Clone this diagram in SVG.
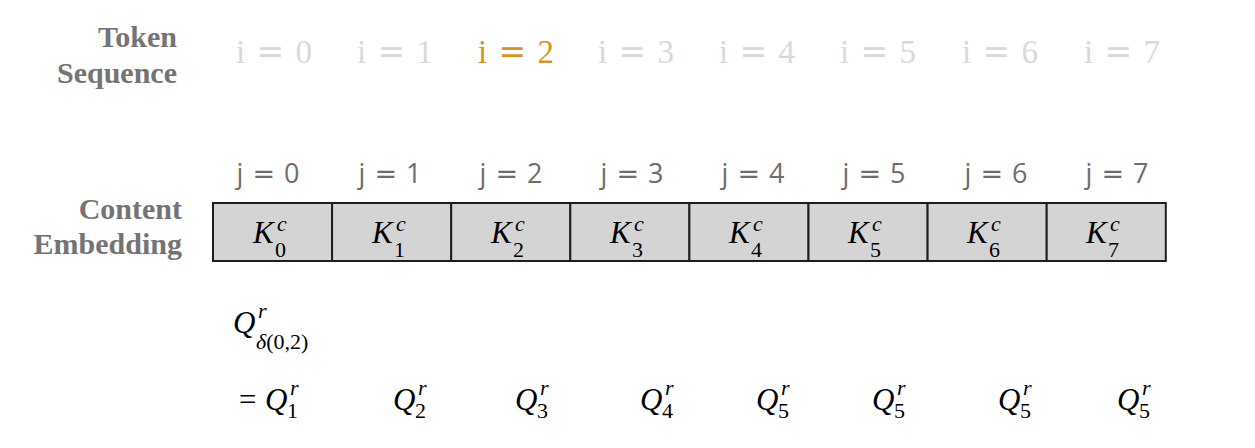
<svg xmlns="http://www.w3.org/2000/svg" width="1255" height="448" viewBox="0 0 1255 448">
<style>
.lbl{font-family:"Liberation Serif","Times New Roman",serif;font-weight:bold;font-size:30px;fill:#747474;text-anchor:end}
.tok{font-family:"Liberation Serif","Times New Roman",serif;font-size:33px;fill:#d9d9d9;text-anchor:middle;word-spacing:3px}
.tok.hi{fill:#d5961f}
.jl{font-family:"Open Sans","Liberation Sans",sans-serif;font-size:27px;fill:#6e6e6e;text-anchor:middle;word-spacing:2px}
.eq{font-family:"DejaVu Sans",sans-serif}
.eqs{font-family:"DejaVu Serif",serif;font-style:normal}
.cell{fill:#d4d4d4;stroke:#1e1e1e;stroke-width:2}
.m{font-family:"Liberation Serif","Times New Roman",serif;fill:#000}
.mi{font-style:italic}
.big{font-size:31px}
.sm{font-size:22px}
</style>
<rect width="1255" height="448" fill="#ffffff"/>
<g id="labels">
<text class="lbl" x="177" y="47">Token</text>
<text class="lbl" x="177" y="83">Sequence</text>
<text class="lbl" x="182" y="219">Content</text>
<text class="lbl" x="182" y="254">Embedding</text>
</g>
<g id="tokens">
<text class="tok" x="274" y="63">i <tspan class="eqs">=</tspan> 0</text>
<text class="tok" x="395" y="63">i <tspan class="eqs">=</tspan> 1</text>
<text class="tok hi" x="516" y="63">i <tspan class="eqs">=</tspan> 2</text>
<text class="tok" x="636" y="63">i <tspan class="eqs">=</tspan> 3</text>
<text class="tok" x="757" y="63">i <tspan class="eqs">=</tspan> 4</text>
<text class="tok" x="878" y="63">i <tspan class="eqs">=</tspan> 5</text>
<text class="tok" x="1000" y="63">i <tspan class="eqs">=</tspan> 6</text>
<text class="tok" x="1122" y="63">i <tspan class="eqs">=</tspan> 7</text>
</g>
<g id="jlabels">
<text class="jl" x="268" y="183">j <tspan class="eq">=</tspan> 0</text>
<text class="jl" x="390" y="183">j <tspan class="eq">=</tspan> 1</text>
<text class="jl" x="511" y="183">j <tspan class="eq">=</tspan> 2</text>
<text class="jl" x="632" y="183">j <tspan class="eq">=</tspan> 3</text>
<text class="jl" x="753" y="183">j <tspan class="eq">=</tspan> 4</text>
<text class="jl" x="874" y="183">j <tspan class="eq">=</tspan> 5</text>
<text class="jl" x="996" y="183">j <tspan class="eq">=</tspan> 6</text>
<text class="jl" x="1117" y="183">j <tspan class="eq">=</tspan> 7</text>
</g>
<g id="embedding">
<g id="k0"><rect class="cell" x="213" y="203" width="119.1" height="58"/><text class="m mi big" x="253" y="243">K</text><text class="m sm" x="275" y="257">0</text><text class="m mi sm" x="277" y="231">c</text></g>
<g id="k1"><rect class="cell" x="332.1" y="203" width="119.1" height="58"/><text class="m mi big" x="372" y="243">K</text><text class="m sm" x="394" y="257">1</text><text class="m mi sm" x="396" y="231">c</text></g>
<g id="k2"><rect class="cell" x="451.2" y="203" width="119.1" height="58"/><text class="m mi big" x="491" y="243">K</text><text class="m sm" x="513" y="257">2</text><text class="m mi sm" x="515" y="231">c</text></g>
<g id="k3"><rect class="cell" x="570.3" y="203" width="119.1" height="58"/><text class="m mi big" x="610" y="243">K</text><text class="m sm" x="632" y="257">3</text><text class="m mi sm" x="634" y="231">c</text></g>
<g id="k4"><rect class="cell" x="689.4" y="203" width="119.1" height="58"/><text class="m mi big" x="729" y="243">K</text><text class="m sm" x="751" y="257">4</text><text class="m mi sm" x="753" y="231">c</text></g>
<g id="k5"><rect class="cell" x="808.5" y="203" width="119.1" height="58"/><text class="m mi big" x="848" y="243">K</text><text class="m sm" x="870" y="257">5</text><text class="m mi sm" x="872" y="231">c</text></g>
<g id="k6"><rect class="cell" x="927.6" y="203" width="119.1" height="58"/><text class="m mi big" x="967" y="243">K</text><text class="m sm" x="989" y="257">6</text><text class="m mi sm" x="991" y="231">c</text></g>
<g id="k7"><rect class="cell" x="1046.7" y="203" width="119.1" height="58"/><text class="m mi big" x="1086" y="243">K</text><text class="m sm" x="1108" y="257">7</text><text class="m mi sm" x="1110" y="231">c</text></g>
</g>
<g id="query">
<text class="m mi big" x="233" y="333">Q</text><text class="m mi sm" x="258" y="318">r</text><text class="m sm" x="256" y="349"><tspan font-style="italic">δ</tspan>(0,2)</text>
<text class="m big" x="239" y="410">=</text>
<text class="m mi big" x="265" y="410">Q</text><text class="m mi sm" x="290" y="395">r</text><text class="m sm" x="287" y="418">1</text>
<text class="m mi big" x="393" y="410">Q</text><text class="m mi sm" x="418" y="395">r</text><text class="m sm" x="415" y="418">2</text>
<text class="m mi big" x="515" y="410">Q</text><text class="m mi sm" x="540" y="395">r</text><text class="m sm" x="537" y="418">3</text>
<text class="m mi big" x="640" y="410">Q</text><text class="m mi sm" x="665" y="395">r</text><text class="m sm" x="662" y="418">4</text>
<text class="m mi big" x="756" y="410">Q</text><text class="m mi sm" x="781" y="395">r</text><text class="m sm" x="778" y="418">5</text>
<text class="m mi big" x="872" y="410">Q</text><text class="m mi sm" x="897" y="395">r</text><text class="m sm" x="894" y="418">5</text>
<text class="m mi big" x="998" y="410">Q</text><text class="m mi sm" x="1023" y="395">r</text><text class="m sm" x="1020" y="418">5</text>
<text class="m mi big" x="1117" y="410">Q</text><text class="m mi sm" x="1142" y="395">r</text><text class="m sm" x="1139" y="418">5</text>
</g>
<g id="connectors"/>
</svg>
